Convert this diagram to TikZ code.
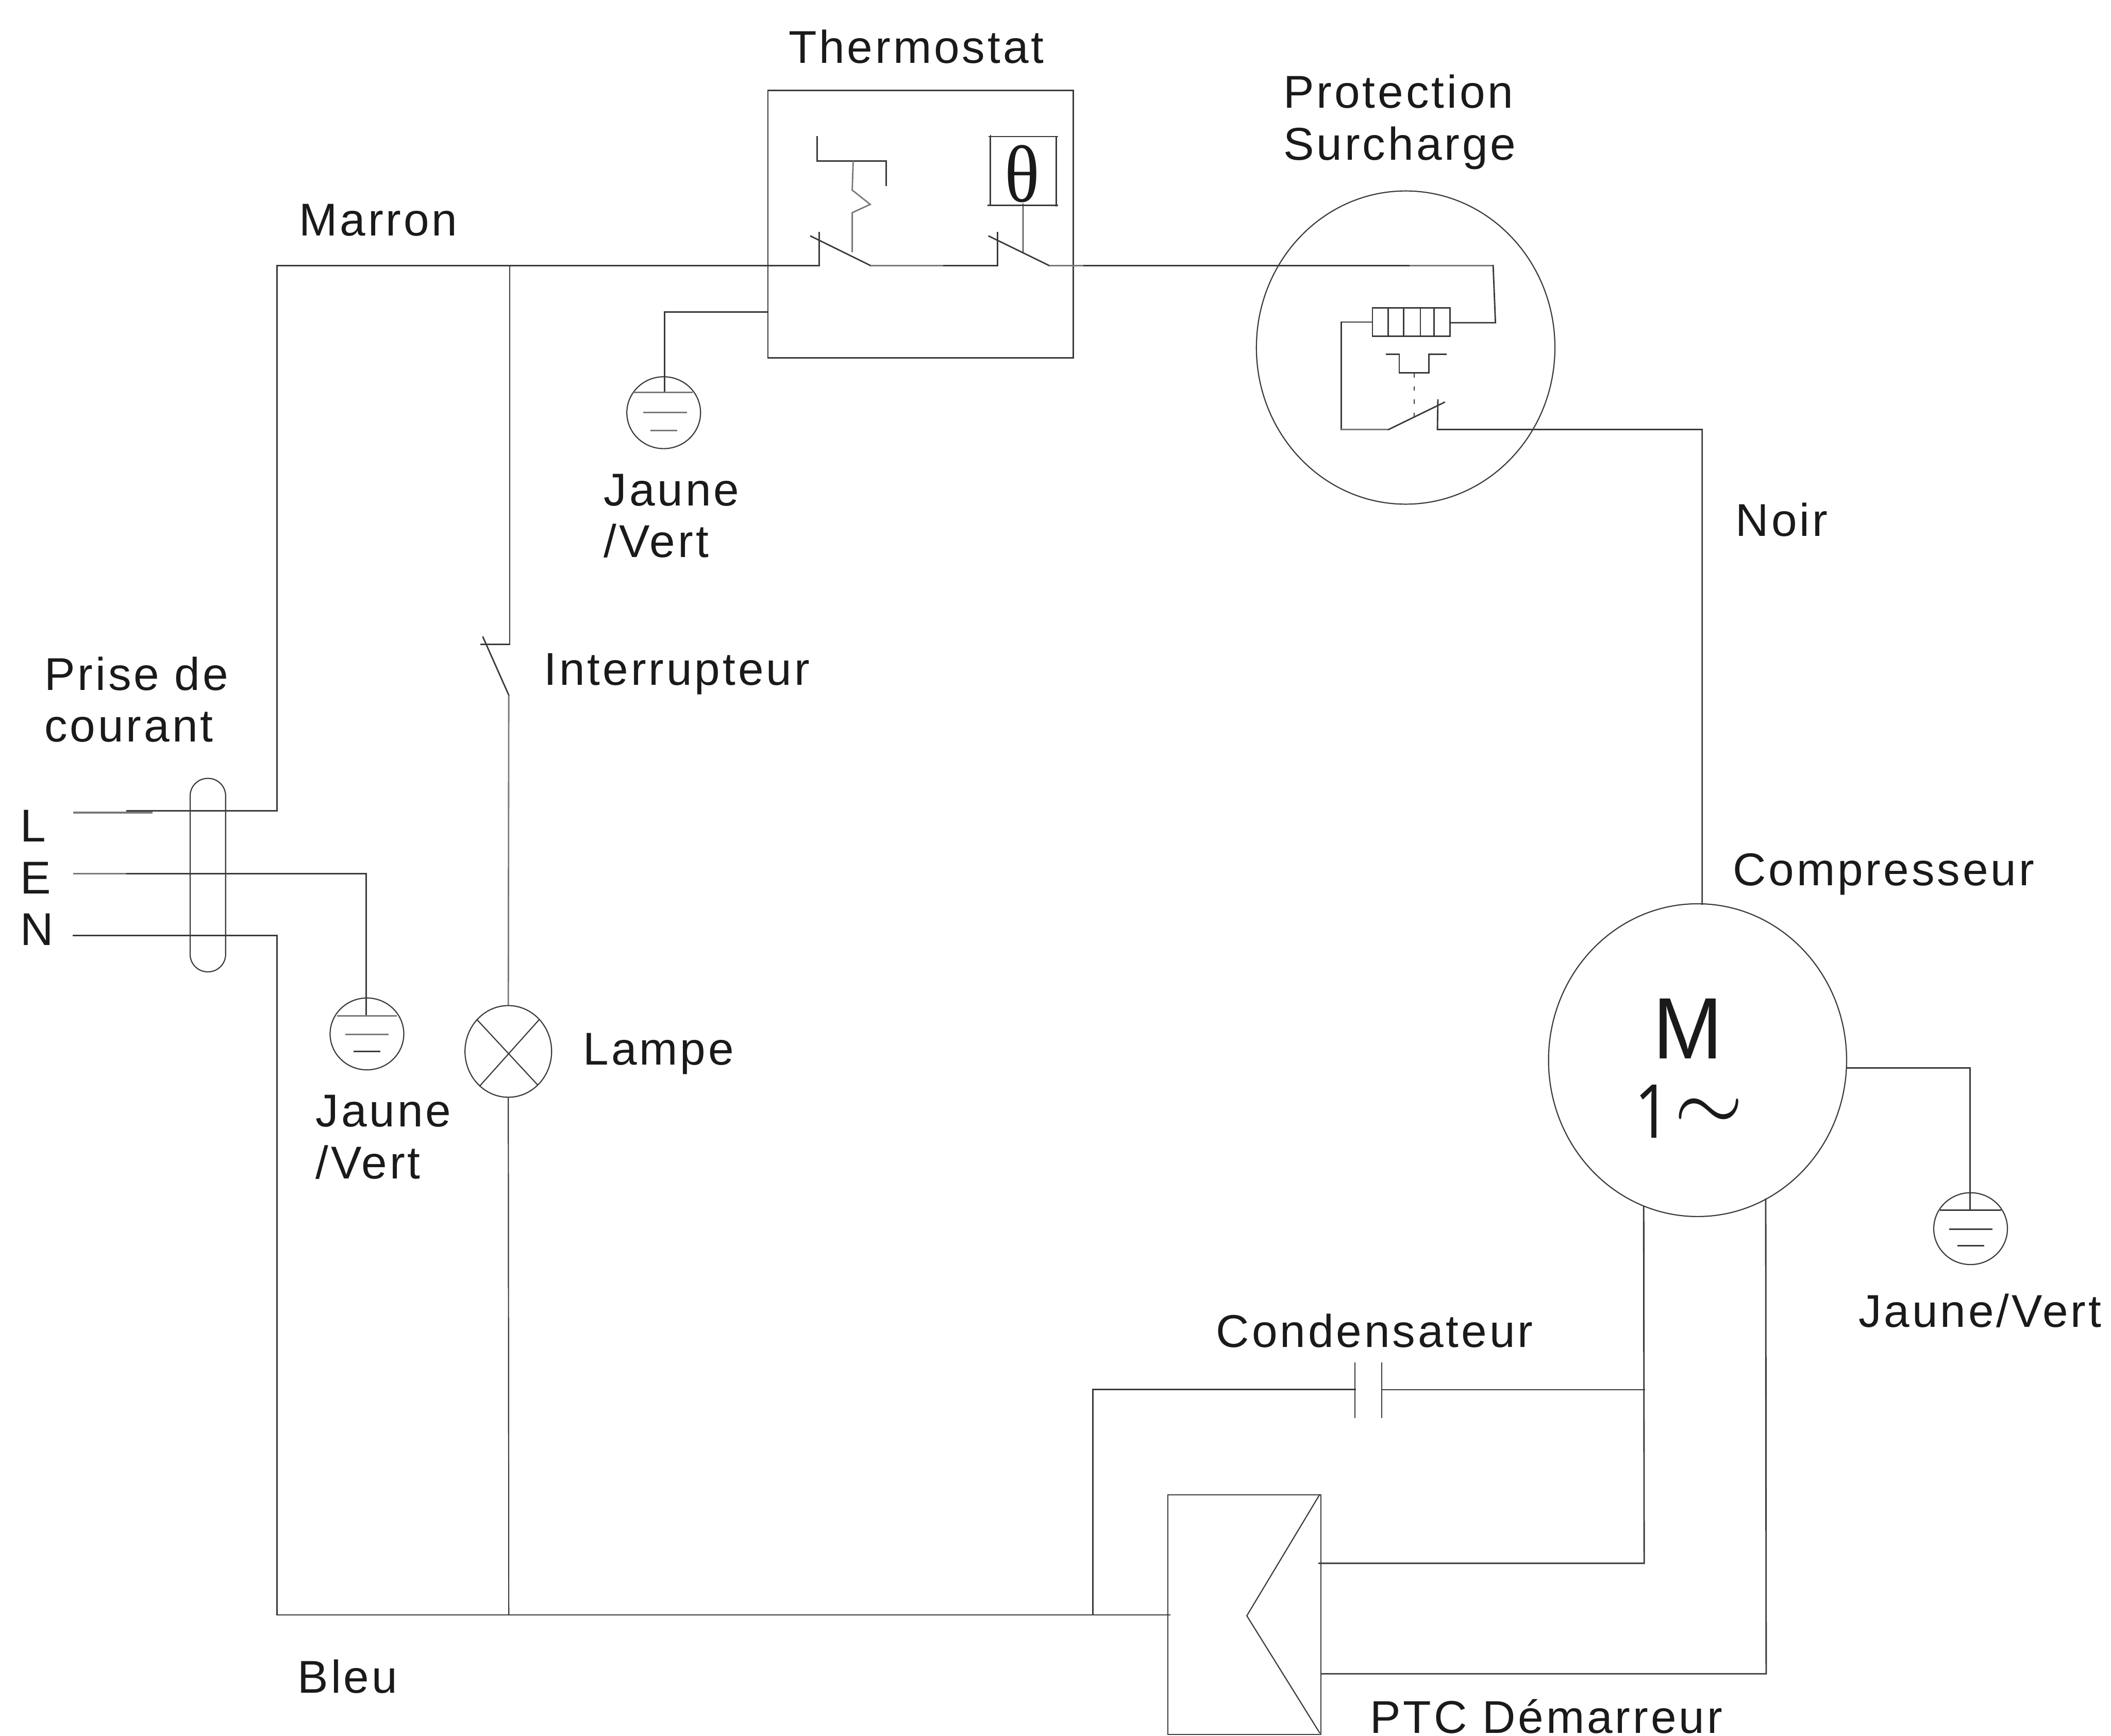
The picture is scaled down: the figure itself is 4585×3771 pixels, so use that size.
\documentclass[tikz,border=0pt]{standalone}
\usepackage{fontspec}
\setmainfont[LetterSpace=5.5]{Liberation Sans}
\newfontfamily\thetafont{Liberation Serif}
\newfontfamily\onefont{Open Sans}
\usetikzlibrary{shapes.geometric,calc}
\definecolor{ink}{HTML}{3A3A3A}
\definecolor{inkl}{HTML}{7A7A7A}
\definecolor{txt}{HTML}{1A1A1A}
\tikzset{
  wire/.style={draw=ink,line width=0.9pt,line cap=rect},
  wirel/.style={draw=inkl,line width=0.9pt},
  oval/.style={ellipse,draw=ink,line width=0.7pt,inner sep=0pt,minimum width=#1},
  box/.style={rectangle,draw=ink,line width=0.9pt,inner sep=0pt},
  lbl/.style={anchor=base west,inner sep=0pt,text=txt,font=\fontsize{28.4}{34}\selectfont},
  gndoval/.style={oval=1.6cm,minimum height=1.56cm}
}
\begin{document}
\begin{tikzpicture}[x=0.01cm,y=-0.01cm]
\useasboundingbox (0,0) rectangle (4585,3771);
% --- components
\node[box,minimum width=6.63cm,minimum height=5.8cm] (thermo) at (1999.5,487) {};
\node[oval=6.48cm,minimum height=6.8cm] (prot) at (3053,755) {};
\node[oval=6.47cm,minimum height=6.79cm] (motor) at (3687,2303) {};
\node[gndoval] (gndA) at (1441.5,896.5) {};
\node[gndoval] (gndB) at (797,2246) {};
\node[gndoval] (gndC) at (4280,2669) {};
\node[oval=1.88cm,minimum height=1.99cm] (lamp) at (1104,2284) {};
\node[rectangle,draw=ink,line width=0.7pt,rounded corners=0.38cm,minimum width=0.77cm,minimum height=4.2cm,inner sep=0pt] (gland) at (451.5,1901) {};
\node[box,line width=0.7pt,minimum width=3.32cm,minimum height=5.21cm] (ptc) at (2703,3507.5) {};
\node[box,minimum width=1.68cm,minimum height=0.61cm] (coil) at (3065,699.5) {};
\node[box,line width=0.7pt,minimum width=1.43cm,minimum height=1.49cm] (thetabox) at (2222.5,371.5) {};
\node[inner sep=0pt,text=txt,font=\thetafont\fontsize{50}{50}\selectfont,xscale=0.9] (theta) at (2220,378) {θ};
% --- named points
\coordinate (Lin) at (159,1765);
\coordinate (Ein) at (159,1898);
\coordinate (Nin) at (159,2032);
\coordinate (topL) at (602,577);
\coordinate (wireN) at (602,2032);
\coordinate (swAa) at (1779,577);
\coordinate (swAb) at (1779,505);
\coordinate (bladeA1) at (1761,513);
\coordinate (bladeA2) at (1891,577);
\coordinate (mid) at (2050,577);
\coordinate (swBa) at (2167,577);
\coordinate (swBb) at (2167,505);
\coordinate (bladeB1) at (2148,513);
\coordinate (bladeB2) at (2279,577);
\coordinate (lightend) at (2355,577);
\coordinate (protA) at (3062,577);
\coordinate (protB) at (3243,577);
\coordinate (protC) at (3248,701);
\coordinate (inter) at (1107,577);
\coordinate (interA) at (1107,1400);
\coordinate (interB) at (1045,1400);
\coordinate (blI1) at (1049,1384);
\coordinate (blI2) at (1105,1510);
\coordinate (busL) at (1105,3508);
\coordinate (capBr) at (2374,3508);
\coordinate (capL) at (2374,3018);
\coordinate (plate1a) at (2943,2961);
\coordinate (plate1b) at (2943,3079);
\coordinate (plate2a) at (3001,2961);
\coordinate (plate2b) at (3001,3079);
\coordinate (capR) at (3571,3019);
\coordinate (mL) at (3570,2621);
\coordinate (mR) at (3835,2605);
\coordinate (ptcA) at (2865,3396);
\coordinate (mLb) at (3571,3396);
\coordinate (mRb) at (3836,3636);
\coordinate (mTop) at (3697,1964);
\coordinate (pinB) at (3122,933);
% --- mains wiring
\draw[wirel,line width=1.1pt] (Lin) -- (331,1765);
\draw[wire] (276,1761) -- (602,1761) -- (topL) -- (swAa) -- (swAb);
\draw[wirel] (Ein) -- (276,1898);
\draw[wire] (276,1898) -- (795,1898) -- (795,2207);
\draw[wire] (Nin) -- (wireN) -- (602,3508) -- (2541,3508);
\draw[wire,draw=inkl] (734,2207) -- (860,2207);
\draw[wire,draw=inkl] (752,2247) -- (842,2247);
\draw[wire] (770,2284) -- (824,2284);
% thermostat internals
\draw[wire] (bladeA1) -- (bladeA2);
\draw[wirel] (bladeA2) -- (mid);
\draw[wire] (mid) -- (swBa) -- (swBb);
\draw[wire] (bladeB1) -- (bladeB2);
\draw[wirel] (bladeB2) -- (lightend);
\draw[wire] (lightend) -- (protA);
\draw[wire] (1775,297) -- (1775,350) -- (1925,350) -- (1925,402);
\draw[wirel] (1853,350) -- (1851,413) -- (1890,444) -- (1851,462) -- (1851,548);
\draw[wire] (2222,444) -- (2222,548);
\draw[wire,line width=0.7pt] (2148,297) -- (2297,297) (2146,446) -- (2297,446) (2151,294) -- (2151,446) (2294,297) -- (2294,448);
\draw[wire] (thermo.west |- 0,678) -- (1443,678) -- (1443,853);
\draw[wire,draw=inkl] (1377,852) -- (1503,852);
\draw[wire,draw=inkl] (1399,896) -- (1490,896);
\draw[wire,draw=inkl] (1414,935) -- (1469,935);
% overload protector
\draw[wirel] (protA) -- (protB);
\draw[wire] (protB) -- (protC) -- (coil.east |- protC);
\foreach \i in {3015,3049,3085,3115} \draw[wire] (\i,669) -- (\i,730);
\draw[wire] (coil.west) -- (2913,699.5) -- (2913,933);
\draw[wirel] (2913,933) -- (3016,933);
\draw[wire] (3016,933) -- (3137,874);
\draw[wire] (3123,869) -- (pinB) -- (3697,933) -- (mTop);
\draw[wire] (3012,770) -- (3039,770) -- (3039,810) -- (3103,810) -- (3103,770) -- (3140,770);
\draw[wire,line width=0.6pt,line cap=butt,dash pattern=on 0.1cm off 0.19cm] (3072,810) -- (3072,906);
% switch and lamp
\draw[wire] (inter) -- (interA) -- (interB);
\draw[wire] (blI1) -- (blI2);
\draw[wirel] (blI2) -- (lamp.north);
\draw[wire,line width=0.7pt] (lamp.south) -- (busL);
\draw[wire,line width=0.7pt] (1036,2215) -- (1167,2356);
\draw[wire,line width=0.7pt] (1171,2215) -- (1043,2358);
% capacitor and starter
\draw[wire] (capBr) -- (capL) -- (plate1a |- capL);
\draw[wire,line width=0.7pt] (plate1a) -- (plate1b);
\draw[wire,line width=0.7pt] (plate2a) -- (plate2b);
\draw[wire] (plate2a |- capR) -- (capR);
\draw[wire] (mL) -- (mLb) -- (ptcA);
\draw[wire] (mR) -- (mRb) -- (ptc.east |- mRb);
\draw[wire,line width=0.7pt] (2866,3247) -- (2708,3510) -- (2866,3764);
% motor earth
\draw[wire] (motor.east |- 0,2320) ++(-1,0) -- (4279,2320) -- (4279,2629);
\draw[wire] (4215,2629) -- (4345,2629);
\draw[wire] (4235,2670) -- (4326,2670);
\draw[wire] (4253,2706) -- (4308,2706);
% --- labels
\node[lbl] (tThermo) at (1712,137) {Thermostat};
\node[lbl] (tMarron) at (649,512) {Marron};
\node[lbl] (tProt) at (2787,234) {Protection};
\node[lbl] (tSurch) at (2787,348) {Surcharge};
\node[lbl] (tNoir) at (3769,1165) {Noir};
\node[lbl] (tJ1) at (1311,1099) {Jaune};
\node[lbl] (tV1) at (1311,1211) {/Vert};
\node[lbl] (tInter) at (1181,1488) {Interrupteur};
\node[lbl] (tPrise) at (96,1499) {Prise de};
\node[lbl] (tCour) at (96,1611) {courant};
\node[lbl] (tL) at (44,1829) {L};
\node[lbl] (tE) at (44,1941) {E};
\node[lbl] (tN) at (44,2053) {N};
\node[lbl] (tComp) at (3763,1924) {Compresseur};
\node[lbl] (tLamp) at (1266,2313) {Lampe};
\node[lbl] (tJ2) at (685,2447) {Jaune};
\node[lbl] (tV2) at (685,2561) {/Vert};
\node[lbl] (tJ3) at (4036,2883) {Jaune/Vert};
\node[lbl] (tCond) at (2641,2927) {Condensateur};
\node[lbl] (tBleu) at (646,3678) {Bleu};
\node[lbl] (tPTC) at (2975,3765) {PTC Démarreur};
\node[lbl,font=\fontsize{53.8}{54}\selectfont,xscale=0.96] (tM) at (3590,2300) {M};
\node[lbl,font=\onefont\fontsize{46}{46}\selectfont,xscale=0.85] (t1) at (3550,2472) {1};
\node[inner sep=0pt,text=txt] (tTilde) at (3712,2422) {\scalebox{5.5}{$\sim$}};
\end{tikzpicture}
\end{document}
